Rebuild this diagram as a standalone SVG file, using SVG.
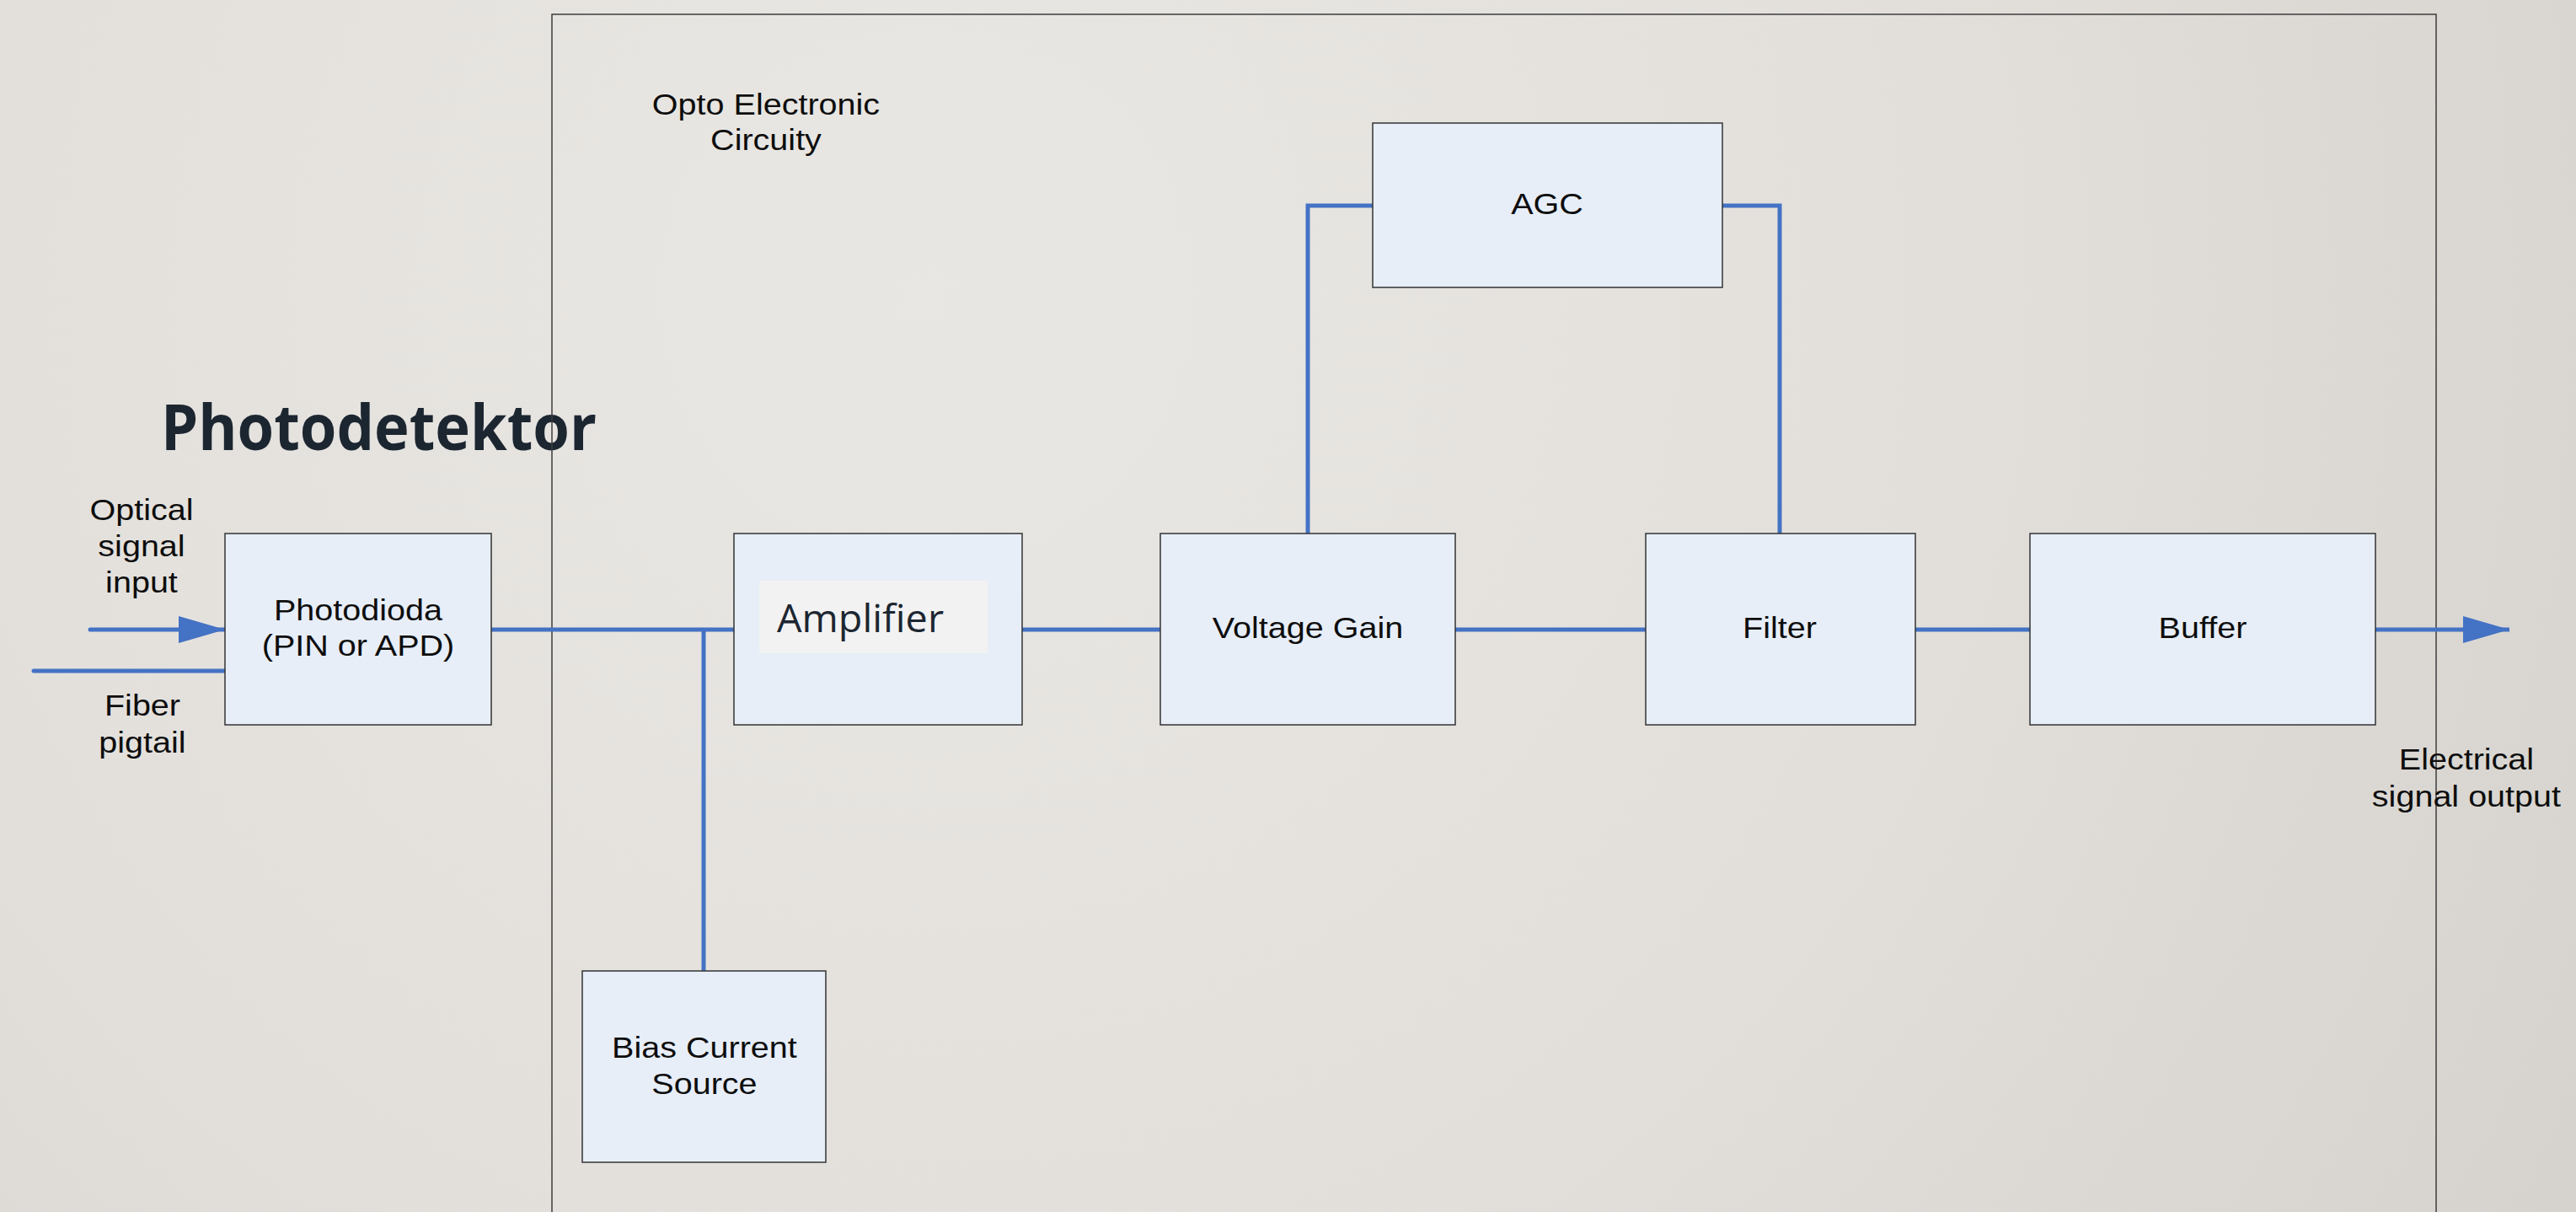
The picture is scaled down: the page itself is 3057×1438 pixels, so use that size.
<svg xmlns="http://www.w3.org/2000/svg" width="3057" height="1438" viewBox="0 0 3057 1438">
<defs>
<radialGradient id="bg" cx="1100" cy="350" r="2300" gradientUnits="userSpaceOnUse">
<stop offset="0" stop-color="#e9e7e3"/>
<stop offset="0.5" stop-color="#e3e0dc"/>
<stop offset="1" stop-color="#d5d2cd"/>
</radialGradient>
<marker id="arr" markerUnits="userSpaceOnUse" markerWidth="56" markerHeight="34" refX="55" refY="16" orient="auto" viewBox="0 0 56 34">
<path d="M0,0 L55,16 L0,32 Z" fill="#4472c4"/>
</marker>
<style>
.box{fill:#e7eef8;stroke:#333;stroke-width:1.5}
.wire{fill:none;stroke:#4472c4;stroke-width:5;stroke-linejoin:miter}
.lbl{font-family:"Liberation Sans",Arial,sans-serif;font-size:35px;fill:#0d0d0d;text-anchor:middle;transform-box:fill-box;transform-origin:center;transform:scaleX(1.13)}
.cal{font-family:"Open Sans","Liberation Sans",sans-serif;fill:#1c2631}
</style>
</defs>
<rect width="3057" height="1438" fill="url(#bg)"/>
<g id="title"><text class="cal" x="191" y="534" font-size="76" font-weight="bold" textLength="517" lengthAdjust="spacingAndGlyphs">Photodetektor</text></g>
<g id="opto-circuitry">
<rect x="655" y="17" width="2236" height="1440" fill="none" stroke="#3c3c3c" stroke-width="1.5"/>
<text class="lbl" x="909" y="136"><tspan x="909">Opto Electronic</tspan><tspan x="909" y="178">Circuity</tspan></text>
</g>
<g id="connectors">
<path class="wire" d="M107,747 H267" stroke-linecap="round" marker-end="url(#arr)"/>
<path class="wire" d="M40,796 H267" stroke-linecap="round"/>
<path class="wire" d="M583,747 H871"/>
<path class="wire" d="M835,747 V1152"/>
<path class="wire" d="M1213,747 H1377"/>
<path class="wire" d="M1727,747 H1953"/>
<path class="wire" d="M2273,747 H2409"/>
<path class="wire" d="M2819,747 H2978" marker-end="url(#arr)"/>
<path class="wire" d="M1552,633 V244 H1629"/>
<path class="wire" d="M2044,244 H2112 V633"/>
</g>
<g id="label-optical"><text class="lbl" x="168" y="617"><tspan x="168">Optical</tspan><tspan x="168" y="660">signal</tspan><tspan x="168" y="703">input</tspan></text></g>
<g id="label-fiber"><text class="lbl" x="169" y="849"><tspan x="169">Fiber</tspan><tspan x="169" y="893">pigtail</tspan></text></g>
<g id="photodioda">
<rect class="box" x="267" y="633" width="316" height="227"/>
<text class="lbl" x="425" y="736"><tspan x="425">Photodioda</tspan><tspan x="425" y="778">(PIN or APD)</tspan></text>
</g>
<g id="amplifier">
<rect class="box" x="871" y="633" width="342" height="227"/>
<rect x="901" y="689" width="271" height="86" fill="#f2f2f2"/>
<text class="cal" x="922" y="750" font-size="46" textLength="198" lengthAdjust="spacingAndGlyphs">Amplifier</text>
</g>
<g id="voltage-gain">
<rect class="box" x="1377" y="633" width="350" height="227"/>
<text class="lbl" x="1552" y="757">Voltage Gain</text>
</g>
<g id="agc">
<rect class="box" x="1629" y="146" width="415" height="195"/>
<text class="lbl" x="1836" y="254">AGC</text>
</g>
<g id="filter">
<rect class="box" x="1953" y="633" width="320" height="227"/>
<text class="lbl" x="2112" y="757">Filter</text>
</g>
<g id="buffer">
<rect class="box" x="2409" y="633" width="410" height="227"/>
<text class="lbl" x="2614" y="757">Buffer</text>
</g>
<g id="bias-current-source">
<rect class="box" x="691" y="1152" width="289" height="227"/>
<text class="lbl" x="836" y="1255"><tspan x="836">Bias Current</tspan><tspan x="836" y="1298">Source</tspan></text>
</g>
<g id="label-electrical"><text class="lbl" x="2927" y="913"><tspan x="2927">Electrical</tspan><tspan x="2927" y="957">signal output</tspan></text></g>
</svg>
